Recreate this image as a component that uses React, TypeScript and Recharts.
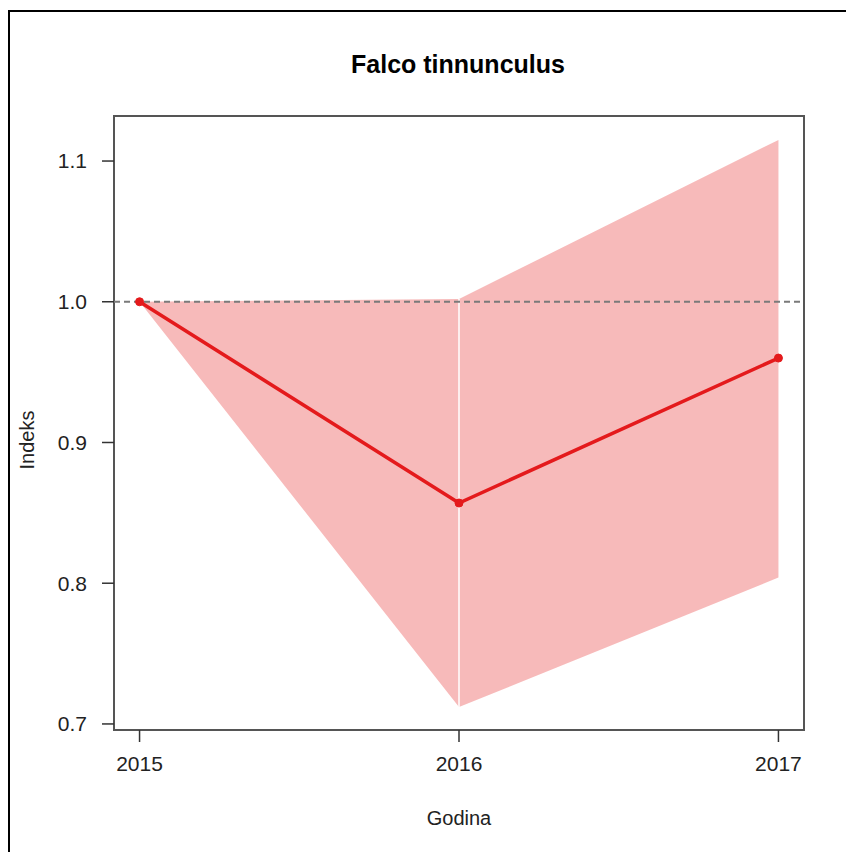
import React from "react"
import {
  ComposedChart,
  Area,
  Line,
  XAxis,
  YAxis,
  ReferenceLine,
  ReferenceArea,
} from "recharts"

// values
const years = [2015, 2016, 2017]
const indexValues = [1.0, 0.857, 0.96]
const lowerValues = [1.0, 0.712, 0.804]
const upperValues = [1.0, 1.002, 1.115]
const xTicks = [2015, 2016, 2017]
const yTicks = [0.7, 0.8, 0.9, 1.0, 1.1]

const data = years.map((year, i) => ({
  year,
  index: indexValues[i],
  band: [lowerValues[i], upperValues[i]],
}))

const X_DOMAIN: [number, number] = [2014.92, 2017.08]
const Y_DOMAIN: [number, number] = [0.6957, 1.132]

const font = "'Liberation Sans', Arial, Helvetica, sans-serif"

export default function App() {
  return (
    <div
      style={{
        position: "absolute",
        left: 0,
        top: 0,
        width: 846,
        height: 852,
        overflow: "hidden",
        background: "white",
        fontFamily: font,
      }}
    >
      {/* outer frame, only top and left edges fall inside the picture */}
      <div
        style={{
          position: "absolute",
          left: 8,
          top: 10,
          width: 900,
          height: 900,
          borderTop: "2.5px solid #000",
          borderLeft: "2.5px solid #000",
        }}
      />
      <div style={{ position: "absolute", left: 0, top: 0 }}>
        <ComposedChart
          width={846}
          height={852}
          data={data}
          margin={{ top: 116, right: 42, bottom: 82, left: 54 }}
        >
          <text
            x={458}
            y={73}
            textAnchor="middle"
            style={{ fontSize: 25, fontWeight: "bold", fontFamily: font }}
            fill="#000"
          >
            Falco tinnunculus
          </text>
          <text
            x={459}
            y={825}
            textAnchor="middle"
            style={{ fontSize: 20, fontFamily: font }}
            fill="#222"
          >
            Godina
          </text>
          <text
            x={34}
            y={440}
            textAnchor="middle"
            transform="rotate(-90 34 440)"
            style={{ fontSize: 20, fontFamily: font }}
            fill="#222"
          >
            Indeks
          </text>
          <XAxis
            dataKey="year"
            type="number"
            domain={X_DOMAIN}
            ticks={xTicks}
            allowDataOverflow
            axisLine={false}
            tickSize={12}
            tickMargin={14}
            height={40}
            tickLine={{ stroke: "#333", strokeWidth: 1.5 }}
            tick={{ fill: "#222", fontSize: 21, fontFamily: font }}
          />
          <YAxis
            type="number"
            domain={Y_DOMAIN}
            ticks={yTicks}
            allowDataOverflow
            axisLine={false}
            tickSize={12}
            tickMargin={15}
            width={60}
            tickLine={{ stroke: "#333", strokeWidth: 1.5 }}
            tick={{ fill: "#222", fontSize: 21, fontFamily: font }}
            tickFormatter={(v: number) => v.toFixed(1)}
          />
          <Area
            dataKey="band"
            type="linear"
            stroke="none"
            fill="#E41A1C"
            fillOpacity={0.3}
            isAnimationActive={false}
            activeDot={false}
          />
          <ReferenceLine
            segment={[
              { x: 2016, y: lowerValues[1] },
              { x: 2016, y: upperValues[1] },
            ]}
            stroke="#fff"
            strokeWidth={1.5}
          />
          <ReferenceLine y={1} stroke="#7a7a7a" strokeWidth={2} strokeDasharray="6 4" />
          <Line
            dataKey="index"
            type="linear"
            stroke="#E41A1C"
            strokeWidth={3.5}
            dot={{ r: 4, fill: "#E41A1C", stroke: "#E41A1C", strokeWidth: 1 }}
            activeDot={false}
            isAnimationActive={false}
          />
          <ReferenceArea
            x1={X_DOMAIN[0]}
            x2={X_DOMAIN[1]}
            y1={Y_DOMAIN[0]}
            y2={Y_DOMAIN[1]}
            fill="none"
            stroke="#555"
            strokeWidth={2}
            ifOverflow="visible"
          />
        </ComposedChart>
      </div>
    </div>
  )
}
